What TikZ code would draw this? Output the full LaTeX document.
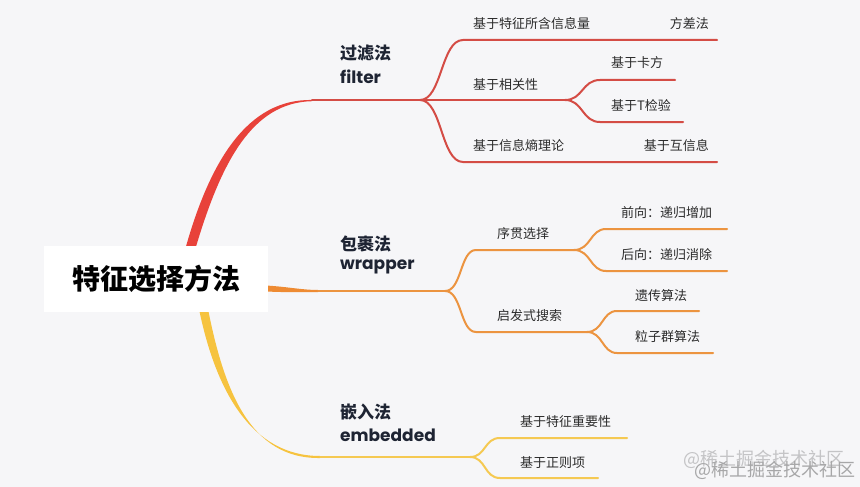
\documentclass[tikz,border=0pt]{standalone}
\usepackage{fontspec}
\setmainfont{Noto Sans CJK SC}
\newfontfamily\pop{Poppins}
\definecolor{bgc}{HTML}{F6F6F8}
\definecolor{txt}{HTML}{2B2B2B}
\definecolor{head}{HTML}{1E2433}
\definecolor{redA}{HTML}{E8423A}
\definecolor{redB}{HTML}{D44C45}
\definecolor{oraA}{HTML}{EE8B33}
\definecolor{oraB}{HTML}{EC9440}
\definecolor{yelA}{HTML}{F6C33F}
\definecolor{yelB}{HTML}{F5C952}
\definecolor{wm}{HTML}{C4C4C6}
\tikzset{
  leaf/.style={anchor=west, inner sep=0pt, text=txt, font=\fontsize{13}{15}\selectfont},
  leafr/.style={leaf, anchor=east},
  headcn/.style={anchor=west, inner sep=0pt, text=head, font=\fontsize{17}{19}\selectfont\bfseries},
  heade/.style={anchor=west, inner sep=0pt, text=head, font=\fontsize{17}{19}\selectfont\pop\bfseries},
  rootbox/.style={fill=white, minimum width=224pt, minimum height=66pt, inner sep=0pt, text=black, font=\fontsize{28}{30}\selectfont\bfseries},
  rline/.style={draw=redB, line width=2pt, line cap=round},
  oline/.style={draw=oraB, line width=2pt, line cap=round},
  yline/.style={draw=yelB, line width=2pt, line cap=round},
  wmark/.style={anchor=west, inner sep=0pt, text=wm, font=\fontsize{18}{20}\selectfont}
}
\begin{document}
\begin{tikzpicture}[x=1pt,y=-1pt]
\fill[bgc] (0,0) rectangle (860,487);
\useasboundingbox (0,0) rectangle (860,487);

% ---- coordinates
\coordinate (rS) at (190,248);
\coordinate (rE) at (312,100);
\coordinate (rF) at (420,100);
\coordinate (oS) at (268,288);
\coordinate (oE) at (318,291);
\coordinate (oF) at (445,291);
\coordinate (yS) at (203,311);
\coordinate (yE) at (320,457);
\coordinate (yF) at (470,457);

% ---- thick main branches (tapered)
\fill[redA] (185,250) .. controls (210,160) and (248,98.8) .. (rE) -- (312,101.2) .. controls (252,102.5) and (221,162) .. (195,250) -- cycle;
\draw[rline] (rE) -- (rF);

\fill[oraA] (266,285.5) .. controls (290,287) and (300,289.8) .. (318,290) -- (318,292) .. controls (300,292.2) and (290,292.5) .. (266,291.5) -- cycle;
\draw[oline] (oE) -- (oF);

\fill[yelA] (199,309) .. controls (216,392) and (252,456) .. (320,456) -- (320,458) .. controls (250,459) and (224,390) .. (208,309) -- cycle;
\draw[yline] (yE) -- (yF);

% ---- root
\node[rootbox] (root) at (156,279) {特征选择方法};

% ---- main labels
\node[headcn] (h1) at (340,53) {过滤法};
\node[heade] (h1e) at (340,77) {filter};
\node[headcn] (h2) at (340,244) {包裹法};
\node[heade] (h2e) at (340,267) {wrapper};
\node[headcn] (h3) at (340,412) {嵌入法};
\node[heade] (h3e) at (340,435) {embedded};

% ---- red sub-branches
\coordinate (r1a) at (463,40);  \coordinate (r1b) at (717,40);
\coordinate (r2b) at (565,100);
\coordinate (r3a) at (463,162); \coordinate (r3b) at (717,162);
\draw[rline] (rF) .. controls (442,100) and (441,40) .. (r1a) -- (r1b);
\draw[rline] (rF) -- (r2b);
\draw[rline] (rF) .. controls (442,100) and (441,162) .. (r3a) -- (r3b);
\coordinate (r21a) at (600,80); \coordinate (r21b) at (675,80);
\coordinate (r22a) at (600,122); \coordinate (r22b) at (683,122);
\draw[rline] (r2b) .. controls (583,100) and (582,80) .. (r21a) -- (r21b);
\draw[rline] (r2b) .. controls (583,100) and (582,122) .. (r22a) -- (r22b);

\node[leaf] (l1) at (473,24) {基于特征所含信息量};
\node[leafr] (l1a) at (709,24) {方差法};
\node[leaf] (l2) at (473,85) {基于相关性};
\node[leaf] (l21) at (611,63) {基于卡方};
\node[leaf] (l22) at (611,106) {基于T检验};
\node[leaf] (l3) at (473,146) {基于信息熵理论};
\node[leafr] (l3a) at (709,146) {基于互信息};

% ---- orange sub-branches
\coordinate (o1a) at (476,250); \coordinate (o1b) at (574,250);
\coordinate (o2a) at (476,332); \coordinate (o2b) at (587,332);
\draw[oline] (oF) .. controls (462,291) and (460,250) .. (o1a) -- (o1b);
\draw[oline] (oF) .. controls (462,291) and (460,332) .. (o2a) -- (o2b);
\coordinate (o11a) at (606,229); \coordinate (o11b) at (727,229);
\coordinate (o12a) at (606,271); \coordinate (o12b) at (727,271);
\draw[oline] (o1b) .. controls (591,250) and (590,229) .. (o11a) -- (o11b);
\draw[oline] (o1b) .. controls (591,250) and (590,271) .. (o12a) -- (o12b);
\coordinate (o21a) at (617,311); \coordinate (o21b) at (699,311);
\coordinate (o22a) at (617,353); \coordinate (o22b) at (713,353);
\draw[oline] (o2b) .. controls (603,332) and (602,311) .. (o21a) -- (o21b);
\draw[oline] (o2b) .. controls (603,332) and (602,353) .. (o22a) -- (o22b);

\node[leaf] (m1) at (497,234) {序贯选择};
\node[leaf] (m11) at (621,213) {前向：递归增加};
\node[leaf] (m12) at (621,255) {后向：递归消除};
\node[leaf] (m2) at (497,316) {启发式搜索};
\node[leaf] (m21) at (635,296) {遗传算法};
\node[leaf] (m22) at (635,337) {粒子群算法};

% ---- yellow sub-branches
\coordinate (y1a) at (500,438); \coordinate (y1b) at (627,438);
\coordinate (y2a) at (500,478); \coordinate (y2b) at (598,478);
\draw[yline] (yF) .. controls (486,457) and (484,438) .. (y1a) -- (y1b);
\draw[yline] (yF) .. controls (486,457) and (484,478) .. (y2a) -- (y2b);
\node[leaf] (n1) at (520,422) {基于特征重要性};
\node[leaf] (n2) at (520,463) {基于正则项};

% ---- watermark
\node[wmark] (w1) at (683,459) {@稀土掘金技术社区};
\node[wmark, text=wm!85!black] (w2) at (694,470) {@稀土掘金技术社区};
\end{tikzpicture}
\end{document}
